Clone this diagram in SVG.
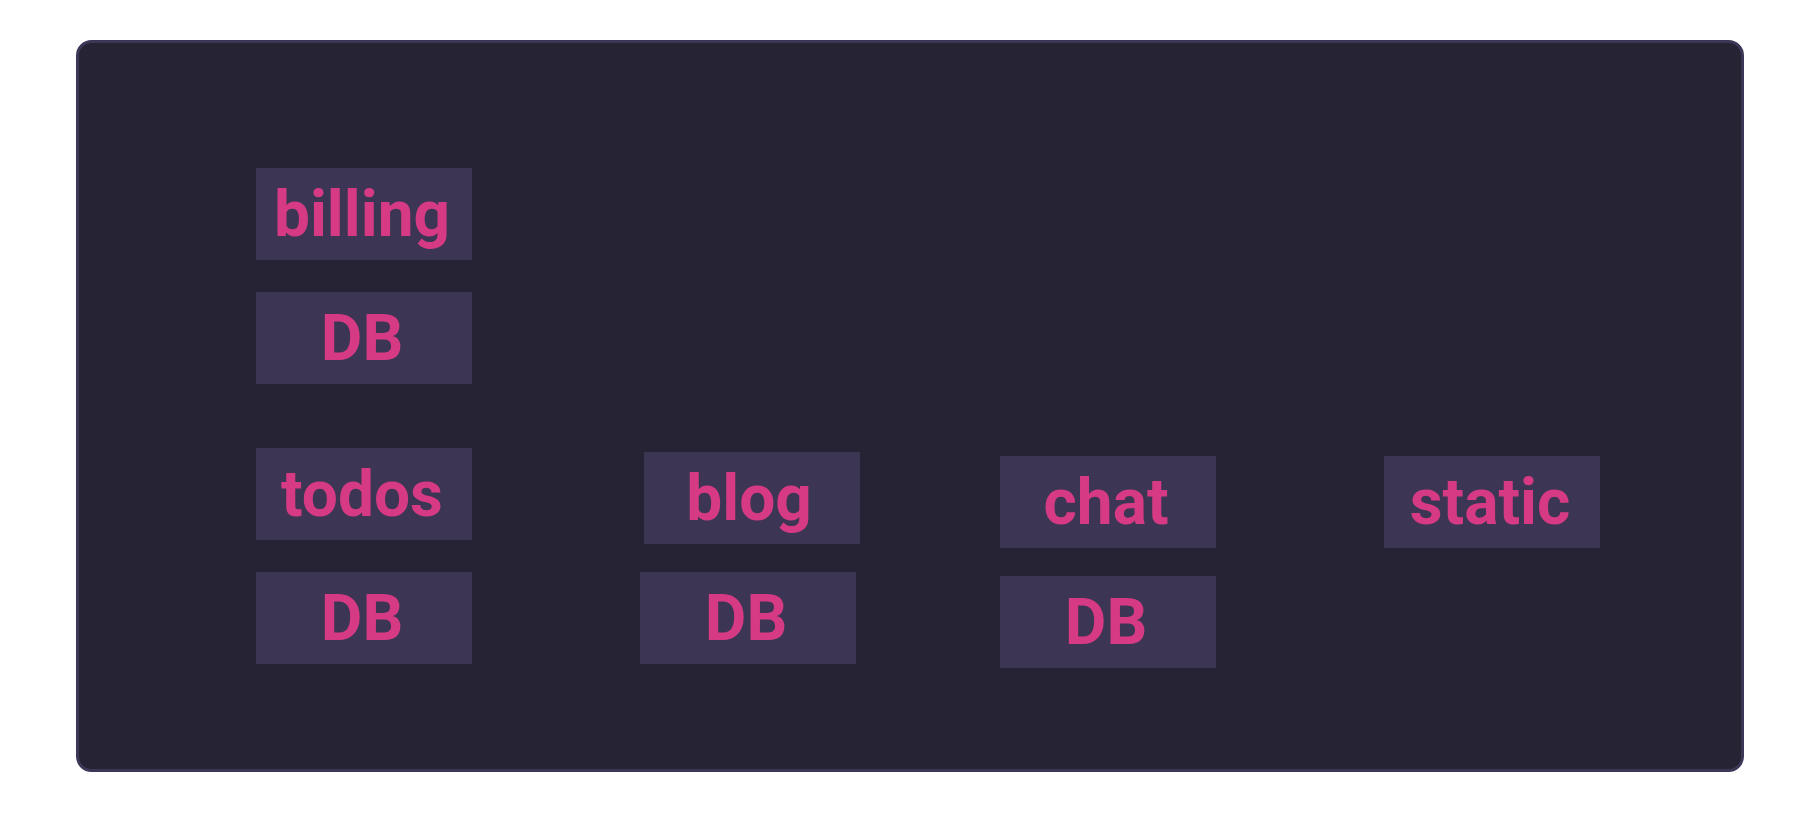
<svg xmlns="http://www.w3.org/2000/svg" width="1808" height="828" viewBox="0 0 1808 828">
<style>
.box{fill:#3c3654}
.lbl{fill:#d63a84;font-family:Roboto,"Liberation Sans",sans-serif;font-weight:bold;font-size:64px;text-anchor:middle}
</style>
<rect width="1808" height="828" fill="#ffffff"/>
<rect id="frame" x="77.5" y="41.5" width="1665" height="729" rx="14" fill="#262335" stroke="#3d3757" stroke-width="3"/>
<g id="connectors"/>
<g id="billing"><rect class="box" x="256" y="168" width="216" height="92"/><text class="lbl" x="362" y="236">billing</text></g>
<g id="billing-db"><rect class="box" x="256" y="292" width="216" height="92"/><text class="lbl" x="362" y="360">DB</text></g>
<g id="todos"><rect class="box" x="256" y="448" width="216" height="92"/><text class="lbl" x="362" y="516">todos</text></g>
<g id="todos-db"><rect class="box" x="256" y="572" width="216" height="92"/><text class="lbl" x="362" y="640">DB</text></g>
<g id="blog"><rect class="box" x="644" y="452" width="216" height="92"/><text class="lbl" x="749" y="520">blog</text></g>
<g id="blog-db"><rect class="box" x="640" y="572" width="216" height="92"/><text class="lbl" x="746" y="640">DB</text></g>
<g id="chat"><rect class="box" x="1000" y="456" width="216" height="92"/><text class="lbl" x="1106" y="524">chat</text></g>
<g id="chat-db"><rect class="box" x="1000" y="576" width="216" height="92"/><text class="lbl" x="1106" y="644">DB</text></g>
<g id="static"><rect class="box" x="1384" y="456" width="216" height="92"/><text class="lbl" x="1490" y="524">static</text></g>
</svg>
